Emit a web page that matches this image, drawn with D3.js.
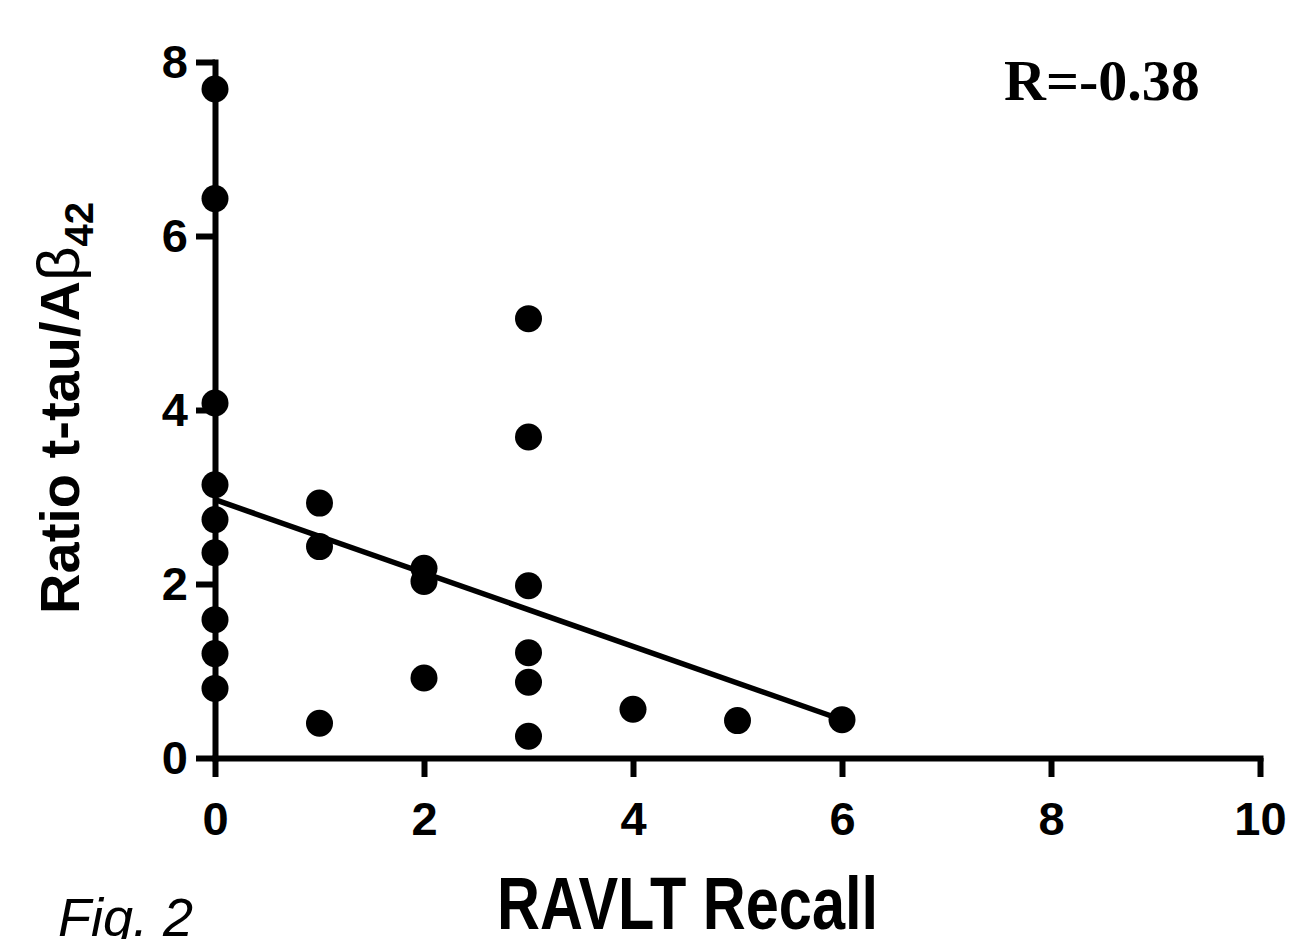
<!DOCTYPE html>
<html>
<head>
<meta charset="utf-8">
<script src="https://cdn.jsdelivr.net/npm/d3@7"></script>
<style>
  body { margin: 0; background: #fff; }
  svg { display: block; }
</style>
</head>
<body>
<svg id="chart" width="1292" height="939"></svg>
<script>
// RAVLT recall vs t-tau/Abeta42 ratio, one dot per subject
const recallX = [0, 0, 0, 0, 0, 0, 0, 0, 0,
                 1, 1, 1,
                 2, 2, 2,
                 3, 3, 3, 3, 3, 3,
                 4, 5, 6];
const ratioY = [7.69, 6.43, 4.08, 3.14, 2.74, 2.36, 1.59, 1.20, 0.80,
                2.93, 2.43, 0.40,
                2.18, 2.03, 0.92,
                5.05, 3.69, 1.98, 1.21, 0.87, 0.25,
                0.56, 0.43, 0.44];

// fitted line as drawn in the figure
const fitX = [0, 6];
const fitY = [2.97, 0.44];

const xTicks = [0, 2, 4, 6, 8, 10];
const yTicks = [0, 2, 4, 6, 8];

const svg = d3.select('#chart');

const x = d3.scaleLinear().domain([0, 10]).range([215, 1260]);
const y = d3.scaleLinear().domain([0, 8]).range([758, 62]);

// fit line
svg.append('path')
  .datum(fitX.map((d, i) => [d, fitY[i]]))
  .attr('d', d3.line().x(d => x(d[0])).y(d => y(d[1])))
  .attr('fill', 'none')
  .attr('stroke', '#000')
  .attr('stroke-width', 5.5);

// axes
const xAxis = svg.append('g')
  .attr('transform', 'translate(0,' + y(0) + ')')
  .call(d3.axisBottom(x).tickValues(xTicks).tickSize(19).tickSizeOuter(0).tickPadding(25));

const yAxis = svg.append('g')
  .attr('transform', 'translate(' + x(0) + ',0)')
  .call(d3.axisLeft(y).tickValues(yTicks).tickSize(19).tickSizeOuter(0).tickPadding(8));

[xAxis, yAxis].forEach(g => {
  g.attr('font-family', '"Liberation Sans", Arial, sans-serif')
    .attr('font-size', 47)
    .attr('font-weight', 'bold');
  g.select('.domain').attr('stroke-width', 6).attr('stroke-linecap', 'square');
  g.selectAll('.tick line').attr('stroke-width', 6);
  g.selectAll('.tick text').attr('fill', '#000');
});

// dots
svg.append('g')
  .selectAll('circle')
  .data(recallX.map((d, i) => [d, ratioY[i]]))
  .join('circle')
  .attr('cx', d => x(d[0]))
  .attr('cy', d => y(d[1]))
  .attr('r', 13.5)
  .attr('fill', '#000');

// y title
const yTitle = svg.append('text')
  .attr('transform', 'translate(79,408) rotate(-90)')
  .attr('text-anchor', 'middle')
  .attr('font-family', '"Liberation Sans", Arial, sans-serif')
  .attr('font-size', 56)
  .attr('font-weight', 'bold');
yTitle.append('tspan').text('Ratio t-tau/A');
yTitle.append('tspan').attr('font-weight', 'normal').attr('font-size', 60).text('β');
yTitle.append('tspan').attr('font-size', 40).attr('dy', 14).text('42');

// x title
svg.append('text')
  .attr('x', 497)
  .attr('y', 929)
  .attr('font-family', '"Liberation Sans", Arial, sans-serif')
  .attr('font-size', 74)
  .attr('font-weight', 'bold')
  .attr('textLength', 381)
  .attr('lengthAdjust', 'spacingAndGlyphs')
  .text('RAVLT Recall');

// correlation
svg.append('text')
  .attr('x', 1004)
  .attr('y', 100)
  .attr('font-family', '"Liberation Serif", "Times New Roman", serif')
  .attr('font-size', 58)
  .attr('font-weight', 'bold')
  .text('R=-0.38');

// figure label
svg.append('text')
  .attr('x', 58)
  .attr('y', 936)
  .attr('font-family', '"Liberation Sans", Arial, sans-serif')
  .attr('font-size', 54)
  .attr('font-style', 'italic')
  .attr('textLength', 135)
  .attr('lengthAdjust', 'spacingAndGlyphs')
  .text('Fig. 2');
</script>
</body>
</html>
